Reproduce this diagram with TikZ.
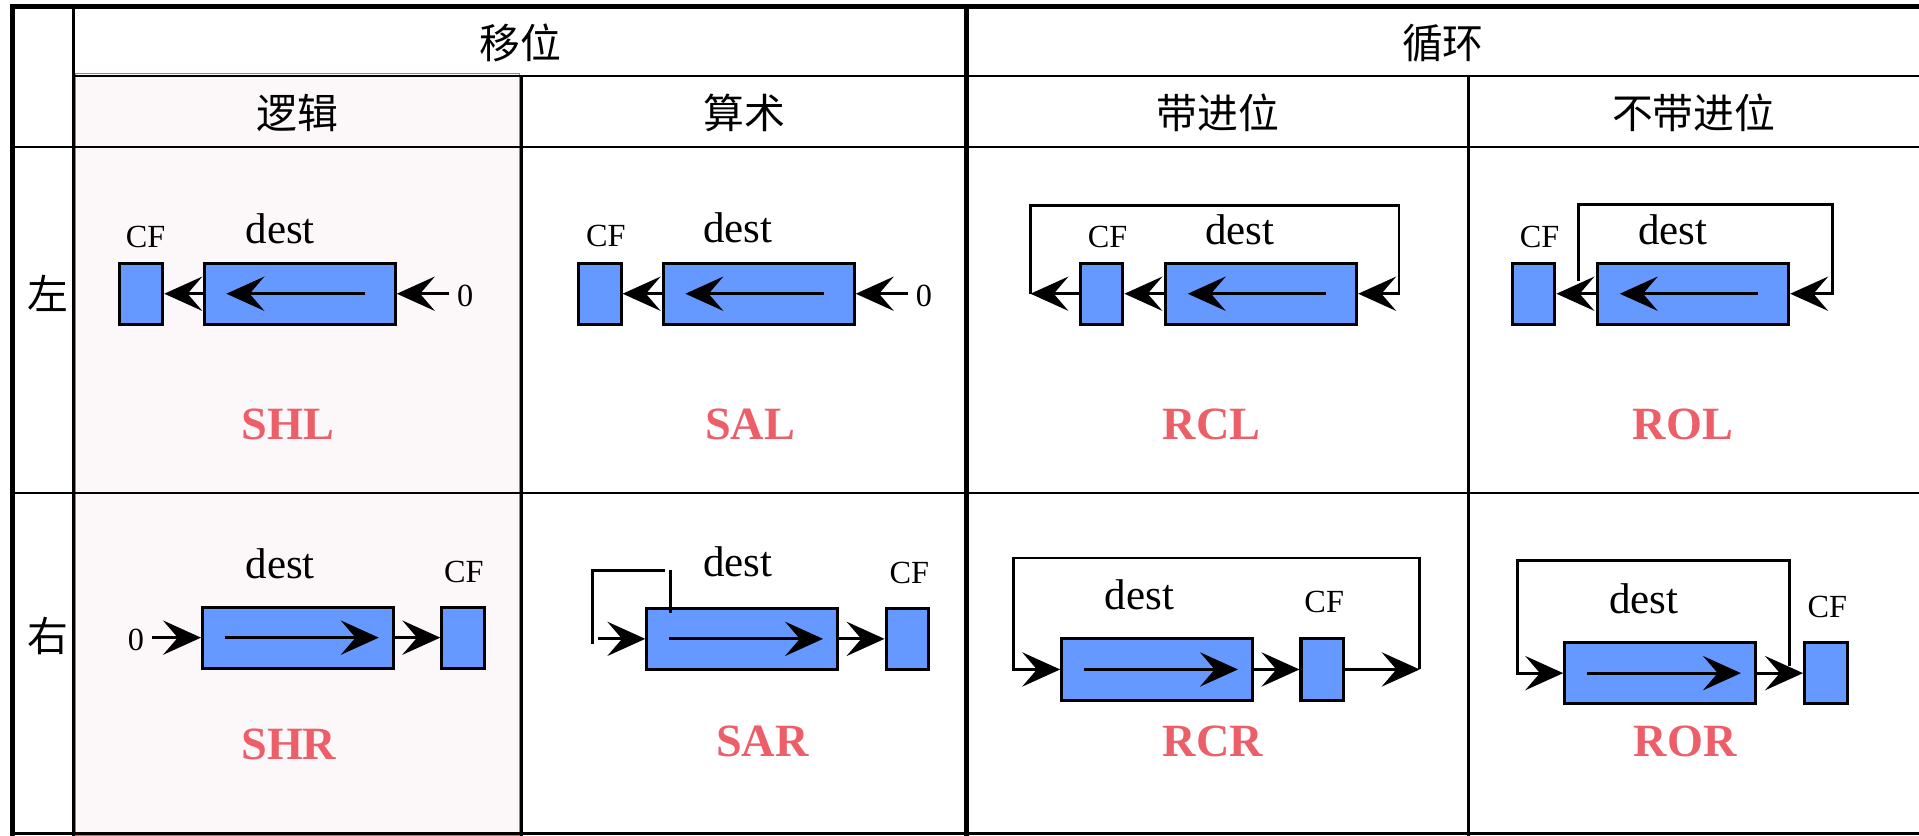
\documentclass[tikz,border=0pt]{standalone}
\usepackage{fontspec}
\setmainfont{Liberation Serif}
\newfontfamily\cjk{Noto Sans CJK SC}
\usepackage{tikz}
\usetikzlibrary{arrows.meta}
\definecolor{regblue}{RGB}{102,153,255}
\definecolor{oplabel}{RGB}{236,94,104}
\definecolor{logicbg}{RGB}{252,248,249}

\begin{document}
\begin{tikzpicture}[x=0.2mm, y=-0.2mm,
  dbox/.style={draw, fill=regblue, line width=0.5mm, minimum width=31.2mm, minimum height=10mm, inner sep=0pt},
  cbox/.style={draw, fill=regblue, line width=0.5mm, minimum width=7mm, minimum height=10mm, inner sep=0pt},
  arr/.style={-{Stealth[length=6.2mm, width=5.6mm, inset=2.4mm]}, line width=0.45mm},
  loopline/.style={line width=0.45mm},
  cftxt/.style={font=\fontsize{15pt}{17pt}\selectfont},
  desttxt/.style={font=\fontsize{20pt}{22pt}\selectfont},
  optxt/.style={text=oplabel, font=\fontsize{21.5pt}{24pt}\selectfont\bfseries},
  hdr/.style={font=\cjk\fontsize{19pt}{22pt}\selectfont},
  thinrule/.style={line width=0.4mm},
  thickrule/.style={line width=0.8mm}]
\useasboundingbox (0,0) rectangle (1568,683);
\draw[oplabel, line width=0.25mm, fill=logicbg] (61.5,60) rectangle (424.5,683);
\draw[thickrule] (8,5) -- (1568,5);
\draw[thickrule] (10,5) -- (10,683);
\draw[thickrule] (790,5) -- (790,683);
\draw[thinrule] (60,5) -- (60,683);
\draw[thinrule] (426,62) -- (426,683);
\draw[thinrule] (1200,62) -- (1200,683);
\draw[thinrule] (60,62) -- (1568,62);
\foreach \y in {120,403,681} \draw[thinrule] (10,\y) -- (1568,\y);

\node[hdr] (hShift) at (425,35) {移位};
\node[hdr] (hRot) at (1179,35) {循环};
\node[hdr] (hLog) at (243,92) {逻辑};
\node[hdr] (hAri) at (608,92) {算术};
\node[hdr] (hCar) at (995,92) {带进位};
\node[hdr] (hNoc) at (1384,92) {不带进位};
\node[hdr] (hLeft) at (39,240) {左};
\node[hdr] (hRight) at (39,520) {右};

\node[cbox] (cSHL) at (115.5,240) {};
\node[dbox] (dSHL) at (245,240) {};
\node[cftxt] (zSHL) at (380,242) {0};
\node[cftxt] (fSHL) at (119,194) {CF};
\node[desttxt] (nSHL) at (229,187) {dest};
\node[optxt] (oSHL) at (235,347) {SHL};
\draw[arr] ([xshift=10.6mm]dSHL.center) -- ([xshift=-12mm]dSHL.center);
\draw[arr] (dSHL) -- (cSHL);
\draw[arr] (zSHL.west |- dSHL) -- (dSHL);

\node[cbox] (cSAL) at (490,240) {};
\node[dbox] (dSAL) at (620,240) {};
\node[cftxt] (zSAL) at (755,242) {0};
\node[cftxt] (fSAL) at (495,193) {CF};
\node[desttxt] (nSAL) at (603,186) {dest};
\node[optxt] (oSAL) at (613,347) {SAL};
\draw[arr] ([xshift=10.6mm]dSAL.center) -- ([xshift=-12mm]dSAL.center);
\draw[arr] (dSAL) -- (cSAL);
\draw[arr] (zSAL.west |- dSAL) -- (dSAL);

\node[cbox] (cRCL) at (900,240) {};
\node[dbox] (dRCL) at (1030.5,240) {};
\node[cftxt] (fRCL) at (905,194) {CF};
\node[desttxt] (nRCL) at (1013,188) {dest};
\node[optxt] (oRCL) at (990,347) {RCL};
\coordinate (lRCL) at (842,240);
\coordinate (tRCL) at (1143,168);
\draw[arr] ([xshift=10.6mm]dRCL.center) -- ([xshift=-12mm]dRCL.center);
\draw[arr] (dRCL) -- (cRCL);
\draw[arr] (cRCL) -- (lRCL);
\draw[arr] (lRCL) |- (tRCL) |- (dRCL);

\node[cbox] (cROL) at (1253,240) {};
\node[dbox] (dROL) at (1383.5,240) {};
\node[cftxt] (fROL) at (1258,194) {CF};
\node[desttxt] (nROL) at (1367,188) {dest};
\node[optxt] (oROL) at (1375,347) {ROL};
\coordinate (eROL) at (1290,230);
\coordinate (tROL) at (1497,167);
\draw[arr] ([xshift=10.6mm]dROL.center) -- ([xshift=-12mm]dROL.center);
\draw[arr] (dROL) -- (cROL);
\draw[arr] (eROL) |- (tROL) |- (dROL);

\node[dbox] (dSHR) at (243.5,521) {};
\node[cbox] (cSHR) at (378.5,521) {};
\node[cftxt] (zSHR) at (111,523) {0};
\node[cftxt] (fSHR) at (379,467) {CF};
\node[desttxt] (nSHR) at (229,461) {dest};
\node[optxt] (oSHR) at (236,608) {SHR};
\draw[arr] ([xshift=-12mm]dSHR.center) -- ([xshift=13.2mm]dSHR.center);
\draw[arr] (zSHR.east |- dSHR) -- (dSHR);
\draw[arr] (dSHR) -- (cSHR);

\node[dbox] (dSAR) at (606.5,522) {};
\node[cbox] (cSAR) at (741.5,522) {};
\node[cftxt] (fSAR) at (743,468) {CF};
\node[desttxt] (nSAR) at (603,459) {dest};
\node[optxt] (oSAR) at (623,606) {SAR};
\coordinate (bSAR) at (484,526);
\coordinate (tSAR) at (543,466);
\coordinate (kSAR) at (548,466);
\coordinate (sSAR) at (489,522);
\draw[arr] ([xshift=-12mm]dSAR.center) -- ([xshift=13.2mm]dSAR.center);
\draw[arr] (sSAR) -- (dSAR);
\draw[arr] (dSAR) -- (cSAR);
\draw[loopline] (bSAR) |- (tSAR);
\draw[loopline] (kSAR) -- ++(0,35);

\node[dbox] (dRCR) at (945.5,547) {};
\node[cbox] (cRCR) at (1080.5,547) {};
\node[cftxt] (fRCR) at (1082,492) {CF};
\node[desttxt] (nRCR) at (931,486) {dest};
\node[optxt] (oRCR) at (991,606) {RCR};
\coordinate (rRCR) at (1160,547);
\coordinate (tRCR) at (828,456);
\draw[arr] ([xshift=-12mm]dRCR.center) -- ([xshift=13.2mm]dRCR.center);
\draw[arr] (dRCR) -- (cRCR);
\draw[arr] (cRCR) -- (rRCR);
\draw[arr] (rRCR) |- (tRCR) |- (dRCR);

\node[dbox] (dROR) at (1356.5,550) {};
\node[cbox] (cROR) at (1492,550) {};
\node[cftxt] (fROR) at (1493,496) {CF};
\node[desttxt] (nROR) at (1343,489) {dest};
\node[optxt] (oROR) at (1377,606) {ROR};
\coordinate (sROR) at (1462,544);
\coordinate (tROR) at (1240,458);
\draw[arr] ([xshift=-12mm]dROR.center) -- ([xshift=13.2mm]dROR.center);
\draw[arr] (dROR) -- (cROR);
\draw[arr] (sROR) |- (tROR) |- (dROR);
\end{tikzpicture}
\end{document}
